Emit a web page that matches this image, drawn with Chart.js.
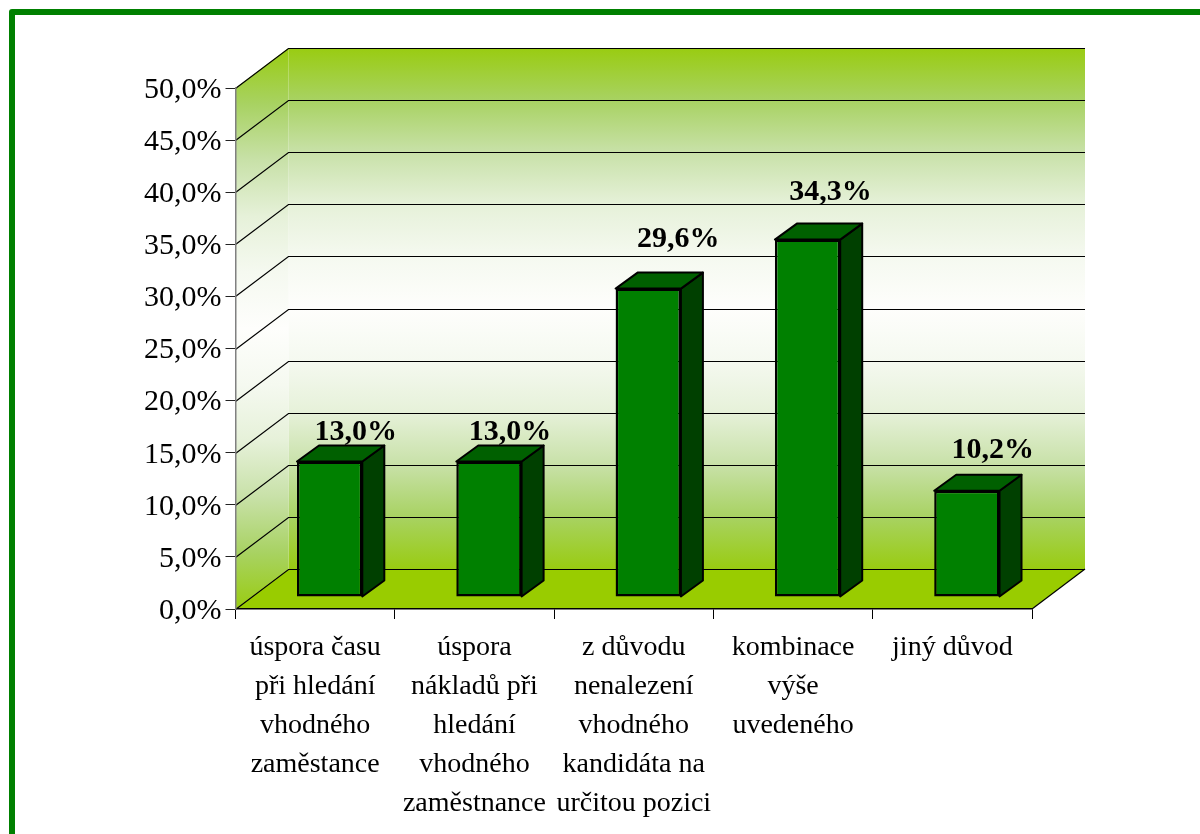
<!DOCTYPE html>
<html lang="cs">
<head>
<meta charset="utf-8">
<title>Graf</title>
<script src="https://cdn.jsdelivr.net/npm/chart.js@4"></script>
<style>
    html, body { margin: 0; padding: 0; background: #fff; overflow: hidden; }
    #frame { position: absolute; left: 9px; top: 9px; width: 1400px; height: 1100px; border: 6px solid #008000; border-radius: 3px; }
    #chart { position: absolute; left: 0; top: 0; }
</style>
</head>
<body>
<div id="frame"></div>
<canvas id="chart" width="1200" height="834"></canvas>
<script>
const categories = [
    ['úspora času', 'při hledání', 'vhodného', 'zaměstance'],
    ['úspora', 'nákladů při', 'hledání', 'vhodného', 'zaměstnance'],
    ['z důvodu', 'nenalezení', 'vhodného', 'kandidáta na', 'určitou pozici'],
    ['kombinace', 'výše', 'uvedeného'],
    ['jiný důvod']
];
const values = [13.0, 13.0, 29.6, 34.3, 10.2];

const SERIF = "'Liberation Serif', serif";
const formatPercent = (val) => val.toFixed(1).replace('.', ',') + '%';

// hand placed labels in the original, offset from the bar top
const LABEL_NUDGE = [[26, -29], [21, -29], [30, -49], [23, -47], [26, -40]];

const WALL_DX = 53;
const WALL_DY = -40;
const BAR_DX = 14.5;
const BAR_DY = -12;
const BAR_DEPTH_X = 22;
const BAR_DEPTH_Y = -16;

function fillPoly(ctx, pts, fill, stroke, lineWidth) {
    ctx.beginPath();
    pts.forEach((p, i) => i ? ctx.lineTo(p[0], p[1]) : ctx.moveTo(p[0], p[1]));
    ctx.closePath();
    if (fill) { ctx.fillStyle = fill; ctx.fill(); }
    if (stroke) { ctx.strokeStyle = stroke; ctx.lineWidth = lineWidth; ctx.stroke(); }
}

function wallGradient(ctx, top, bottom) {
    const g = ctx.createLinearGradient(0, top, 0, bottom);
    const stops = ['#99cc11', '#a8d262', '#c8e1a8', '#e6f1d9', '#f5f9f0', '#fefefc'];
    stops.forEach((c, i) => {
        g.addColorStop(i / 10, c);
        g.addColorStop(1 - i / 10, c);
    });
    return g;
}

const walls3d = {
    id: 'walls3d',
    beforeDraw(chart) {
        const { ctx, chartArea: a, scales } = chart;
        const l = a.left, r = a.right, t = a.top, b = a.bottom;
        ctx.save();
        // back wall, side wall, floor
        fillPoly(ctx, [[l + WALL_DX, t + WALL_DY], [r + WALL_DX, t + WALL_DY], [r + WALL_DX, b + WALL_DY], [l + WALL_DX, b + WALL_DY]],
            wallGradient(ctx, t + WALL_DY, b + WALL_DY));
        fillPoly(ctx, [[l, t], [l + WALL_DX, t + WALL_DY], [l + WALL_DX, b + WALL_DY], [l, b]],
            wallGradient(ctx, t + WALL_DY, b));
        fillPoly(ctx, [[l, b], [l + WALL_DX, b + WALL_DY], [r + WALL_DX, b + WALL_DY], [r, b]], '#99cc00');

        // grid lines run along the side wall and the back wall
        ctx.strokeStyle = '#000';
        ctx.lineWidth = 1.2;
        scales.y.ticks.forEach(tick => {
            const y = Math.round(scales.y.getPixelForValue(tick.value));
            ctx.beginPath();
            ctx.moveTo(l, y + 0.5);
            ctx.lineTo(l + WALL_DX, y + WALL_DY + 0.5);
            ctx.lineTo(r + WALL_DX, y + WALL_DY + 0.5);
            ctx.stroke();
        });
        ctx.beginPath();
        ctx.moveTo(r, b);
        ctx.lineTo(r + WALL_DX, b + WALL_DY);
        ctx.stroke();
        ctx.restore();
    },
    beforeDatasetDraw(chart) {
        chart.ctx.save();
        chart.ctx.translate(BAR_DX, BAR_DY);
    },
    afterDatasetDraw(chart, args) {
        const ctx = chart.ctx;
        ctx.lineJoin = 'round';
        args.meta.data.forEach(bar => {
            const x0 = bar.x - bar.width / 2, x1 = bar.x + bar.width / 2;
            const top = bar.y, base = bar.base;
            fillPoly(ctx, [[x1, top], [x1 + BAR_DEPTH_X, top + BAR_DEPTH_Y], [x1 + BAR_DEPTH_X, base + BAR_DEPTH_Y], [x1, base]], '#004000', '#000', 2);
            fillPoly(ctx, [[x0, top], [x0 + BAR_DEPTH_X, top + BAR_DEPTH_Y], [x1 + BAR_DEPTH_X, top + BAR_DEPTH_Y], [x1, top]], '#006000', '#000', 2);
        });
        ctx.restore();
    },
    afterDatasetsDraw(chart) {
        const ctx = chart.ctx;
        ctx.save();
        ctx.font = 'bold 30px ' + SERIF;
        ctx.fillStyle = '#000';
        ctx.textAlign = 'center';
        ctx.textBaseline = 'middle';
        chart.getDatasetMeta(0).data.forEach((bar, i) => {
            ctx.fillText(formatPercent(values[i]),
                bar.x + BAR_DX + LABEL_NUDGE[i][0],
                bar.y + BAR_DY + LABEL_NUDGE[i][1]);
        });
        ctx.restore();
    }
};

new Chart(document.getElementById('chart'), {
    type: 'bar',
    data: {
        labels: categories,
        datasets: [{
            data: values,
            backgroundColor: '#008000',
            borderColor: '#000',
            borderWidth: 2.5,
            borderSkipped: false,
            barPercentage: 0.41,
            categoryPercentage: 1,
            clip: false
        }]
    },
    plugins: [walls3d],
    options: {
        responsive: false,
        animation: false,
        layout: { padding: { left: 0, right: 168, top: 88, bottom: 0 } },
        plugins: {
            legend: { display: false },
            tooltip: { enabled: false }
        },
        scales: {
            x: {
                afterFit: (scale) => { scale.height = 225; },
                border: { color: '#000', width: 1.5 },
                grid: { drawOnChartArea: false, color: '#000', tickLength: 10 },
                ticks: {
                    color: '#000',
                    maxRotation: 0,
                    autoSkip: false,
                    padding: 9,
                    font: { family: SERIF, size: 28, lineHeight: 1.393 }
                }
            },
            y: {
                min: 0,
                max: 50,
                afterFit: (scale) => { scale.width = 235.5; },
                border: { color: '#808080', width: 1.5 },
                grid: { drawOnChartArea: false, color: '#222', tickLength: 10 },
                ticks: {
                    stepSize: 5,
                    color: '#000',
                    padding: 4,
                    labelOffset: 2,
                    font: { family: SERIF, size: 30 },
                    callback: (value) => formatPercent(value)
                }
            }
        }
    }
});
</script>
</body>
</html>
